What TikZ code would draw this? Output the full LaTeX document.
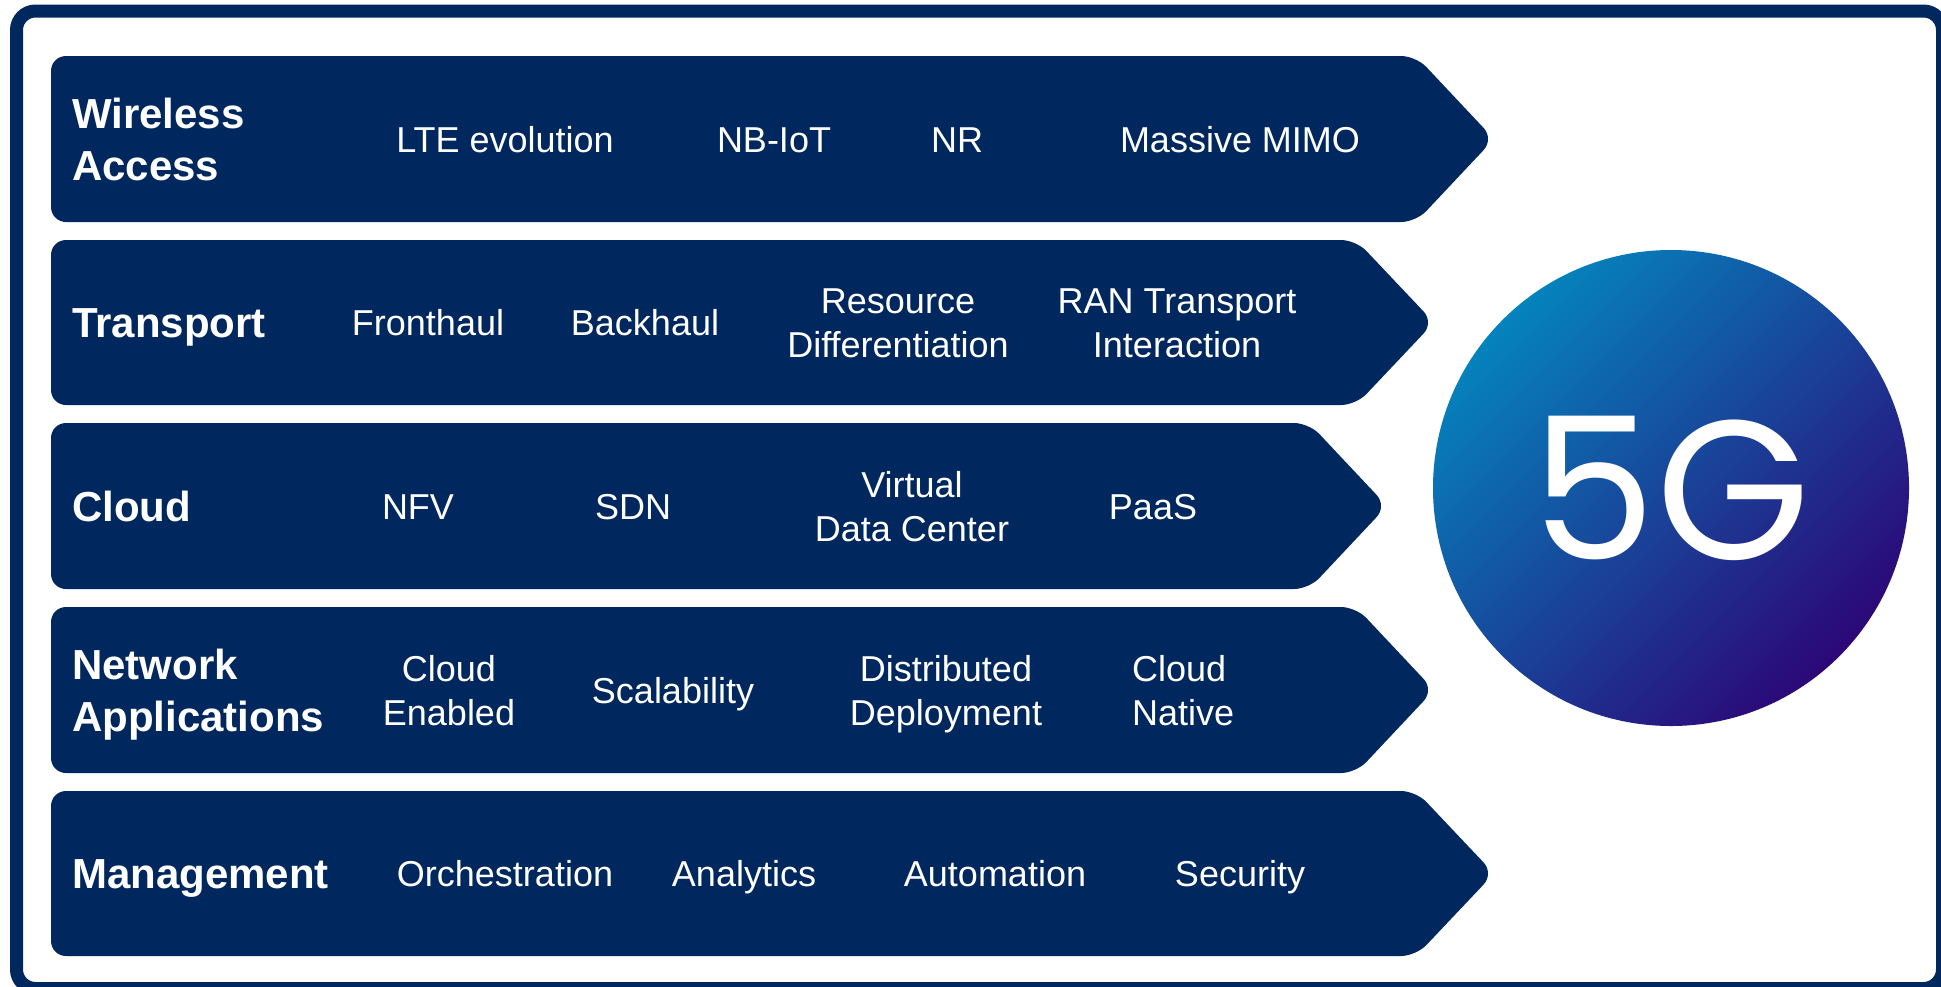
\documentclass[tikz,border=0pt]{standalone}
\usepackage{fontspec}
\setmainfont{Liberation Sans}
\newfontfamily\fivegfont{Poppins}
\usetikzlibrary{positioning, calc}

\definecolor{navy}{HTML}{00285E}
\definecolor{fgtop}{HTML}{0583BC}
\definecolor{fgbottom}{HTML}{2C0777}

\begin{document}
\begin{tikzpicture}[
        x=1pt, y=-1pt,
        frame/.style={draw=navy, line width=13pt, rounded corners=19pt},
        band/.style={fill=navy, rounded corners=15pt},
        layer/.style={anchor=west, inner sep=0pt, align=left, text=white, font=\bfseries\fontsize{42}{52}\selectfont, text height=30pt, text depth=0pt},
        layer2/.style={layer, text height=82pt},
        item/.style={inner sep=0pt, align=center, text=white, font=\fontsize{36}{44}\selectfont, text height=26pt, text depth=0pt},
        item2/.style={item, text height=70pt},
        fiveg/.style={circle, minimum size=476pt, inner sep=0pt, top color=fgtop, bottom color=fgbottom, shading angle=45, text=white, font=\fivegfont\fontsize{198}{198}\selectfont}
    ]

    \useasboundingbox (0,0) rectangle (1941,986);
    \fill[white] (0,0) rectangle (1941,986);
    \draw[frame] (16.5,11) rectangle (1942.5,988.5);

    % the five layers
    \fill[band] (51,56) -- (1416,56) -- (1494,139) -- (1416,222) -- (51,222) -- cycle;
    \fill[band] (51,240) -- (1356,240) -- (1434,322.5) -- (1356,405) -- (51,405) -- cycle;
    \fill[band] (51,423) -- (1309,423) -- (1387,506) -- (1309,589) -- (51,589) -- cycle;
    \fill[band] (51,607) -- (1356,607) -- (1434,690) -- (1356,773) -- (51,773) -- cycle;
    \fill[band] (51,791) -- (1416,791) -- (1494,873.5) -- (1416,956) -- (51,956) -- cycle;

    \node[layer2] (wireless) at (72,139) {Wireless\\Access};
    \node[item] (lte) at (505,139) {LTE evolution};
    \node[item] (nbiot) at (774,139) {NB-IoT};
    \node[item] (nr) at (957,139) {NR};
    \node[item] (mimo) at (1240,139) {Massive MIMO};

    \node[layer] (transport) at (72,322.5) {Transport};
    \node[item] (fronthaul) at (428,322.5) {Fronthaul};
    \node[item] (backhaul) at (645,322.5) {Backhaul};
    \node[item2] (resource) at (898,322.5) {Resource\\Differentiation};
    \node[item2] (ran) at (1177,322.5) {RAN Transport\\Interaction};

    \node[layer] (cloud) at (72,506) {Cloud};
    \node[item] (nfv) at (418,506) {NFV};
    \node[item] (sdn) at (633,506) {SDN};
    \node[item2] (vdc) at (912,506) {Virtual\\Data Center};
    \node[item] (paas) at (1153,506) {PaaS};

    \node[layer2] (netapps) at (72,690) {Network\\Applications};
    \node[item2] (enabled) at (449,690) {Cloud\\Enabled};
    \node[item] (scalability) at (673,690) {Scalability};
    \node[item2] (distributed) at (946,690) {Distributed\\Deployment};
    \node[item2, align=left, anchor=west] (native) at (1132,690) {Cloud\\Native};

    \node[layer] (management) at (72,873.5) {Management};
    \node[item] (orchestration) at (505,873.5) {Orchestration};
    \node[item] (analytics) at (744,873.5) {Analytics};
    \node[item] (automation) at (995,873.5) {Automation};
    \node[item] (security) at (1240,873.5) {Security};

    \node[fiveg] (fg) at (1671,488) {5G};

\end{tikzpicture}
\end{document}
